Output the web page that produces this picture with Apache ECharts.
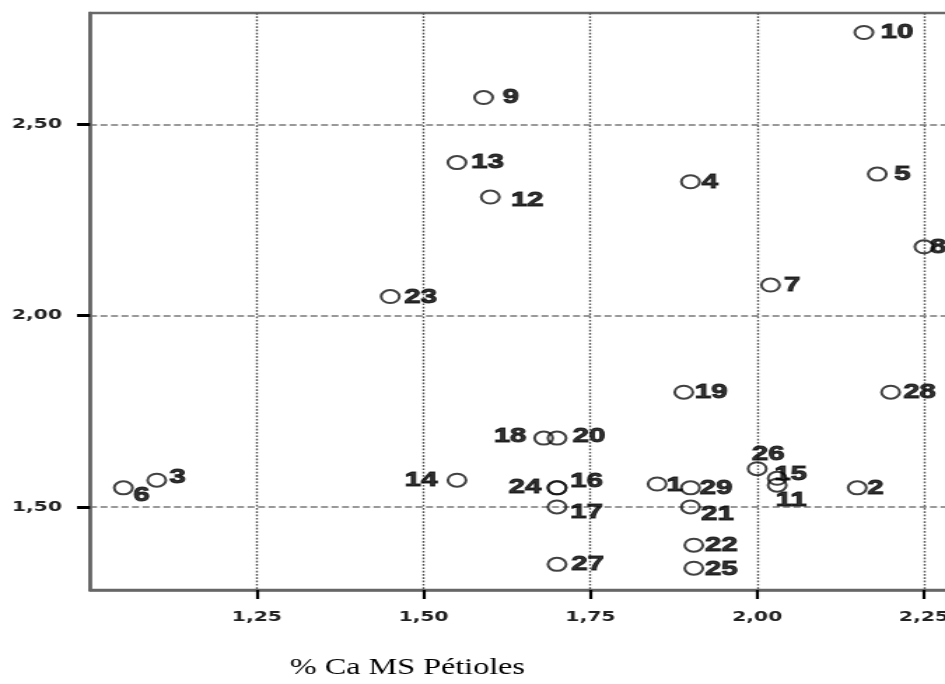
<!DOCTYPE html>
<html>
<head>
<meta charset="utf-8">
<script src="https://cdn.jsdelivr.net/npm/echarts@6/dist/echarts.min.js"></script>
<style>
  html, body { margin: 0; padding: 0; background: #fff; overflow: hidden; width: 945px; height: 684px; }
  #main { width: 700px; height: 684px; transform: scaleX(1.4); transform-origin: 0 0; }
</style>
</head>
<body>
<div id="main"></div>
<script>
// ---- data ----
const pointIds   = ['1','2','3','4','5','6','7','8','9','10','11','12','13','14','15','16','17','18','19','20','21','22','23','24','25','26','27','28','29'];
const caPetioles = [1.85, 2.15, 1.10, 1.90, 2.18, 1.05, 2.02, 2.25, 1.59, 2.16, 2.03, 1.60, 1.55, 1.55, 2.03, 1.70, 1.70, 1.68, 1.89, 1.70, 1.90, 1.905, 1.45, 1.70, 1.905, 2.00, 1.70, 2.20, 1.90];
const yValues    = [1.56, 1.55, 1.57, 2.35, 2.37, 1.55, 2.08, 2.18, 2.57, 2.74, 1.557, 2.31, 2.40, 1.57, 1.575, 1.55, 1.50, 1.68, 1.80, 1.68, 1.50, 1.40, 2.05, 1.55, 1.34, 1.60, 1.35, 1.80, 1.55];
const xTickValues = [1.25, 1.50, 1.75, 2.00, 2.25];
const yTickValues = [1.50, 2.00, 2.50];
const xTitle = '% Ca MS Pétioles';

// ---- label placement (style only): offset of label centre from marker centre ----
const labelOffsets = {
  '1':[12.5,1.5], '2':[12.9,0], '3':[15,-2.5], '4':[13.9,0], '5':[17.9,0], '6':[12.9,7],
  '7':[15.4,0], '8':[10,0], '9':[19.3,0], '10':[23.6,0], '11':[10,15.5], '12':[26.4,3],
  '13':[21.8,0], '14':[-25.7,0], '15':[9.6,-4.5], '16':[21,-7], '17':[21,5.5], '18':[-24,-2],
  '19':[19.6,0], '20':[22.9,-2], '21':[19.3,7], '22':[19.6,0], '23':[21.8,1], '24':[-22.9,-1],
  '25':[19.6,1], '26':[7.9,-15], '27':[21.8,0], '28':[20.7,0], '29':[18.2,0]
};

const fmt = v => Number(v).toFixed(2).replace('.', ',');

const seriesData = pointIds.map((id, i) => ({
  name: id,
  value: [caPetioles[i], yValues[i]],
  label: { offset: labelOffsets[id] || [18, 0] }
}));

const chart = echarts.init(document.getElementById('main'), null, { renderer: 'canvas' });
chart.setOption({
  animation: false,
  backgroundColor: '#fff',
  grid: {
    left: 64.3, top: 13, width: 619.5, height: 577,
    show: true, borderColor: '#6a6a6a', borderWidth: 2.5, backgroundColor: 'transparent'
  },
  xAxis: {
    type: 'value', min: 1.0, max: 2.3, interval: 0.25,
    axisLine: { show: true, lineStyle: { color: '#666', width: 2.5 } },
    axisTick: { show: true, customValues: xTickValues, length: 9, lineStyle: { color: '#000', width: 2.2 } },
    axisLabel: {
      customValues: xTickValues, formatter: fmt, margin: 20,
      fontFamily: 'DejaVu Sans', fontWeight: 'bold', fontSize: 14.5, color: '#222'
    },
    splitLine: { show: true, lineStyle: { color: '#555', width: 1.4, type: [1.7, 1.6] } }
  },
  yAxis: {
    type: 'value', min: 1.283, max: 2.791,
    axisLine: { show: true, lineStyle: { color: '#666', width: 2.5 } },
    axisTick: { show: true, customValues: yTickValues, length: 9.3, lineStyle: { color: '#000', width: 3 } },
    axisLabel: {
      customValues: yTickValues, formatter: fmt, margin: 20,
      fontFamily: 'DejaVu Sans', fontWeight: 'bold', fontSize: 14.5, color: '#222'
    },
    splitLine: { show: true, customValues: yTickValues, lineStyle: { color: '#999', width: 2, type: [5, 2.5] } }
  },
  series: [{
    type: 'scatter',
    data: seriesData,
    symbol: 'circle',
    symbolSize: 13,
    itemStyle: { color: 'rgba(0,0,0,0)', borderColor: '#111', borderWidth: 2 },
    label: {
      show: true,
      position: ['50%', '50%'],
      align: 'center', verticalAlign: 'middle',
      formatter: p => p.name,
      fontFamily: 'Liberation Sans', fontWeight: 'bold', fontSize: 21, color: '#000',
      textBorderColor: '#000', textBorderWidth: 1
    },
    emphasis: { disabled: true },
    z: 5
  }],
  graphic: [{
    type: 'text', left: 207, top: 656,
    style: { text: xTitle, fontFamily: 'Liberation Serif', fontSize: 23, fill: '#000' }
  }]
});
</script>
</body>
</html>
